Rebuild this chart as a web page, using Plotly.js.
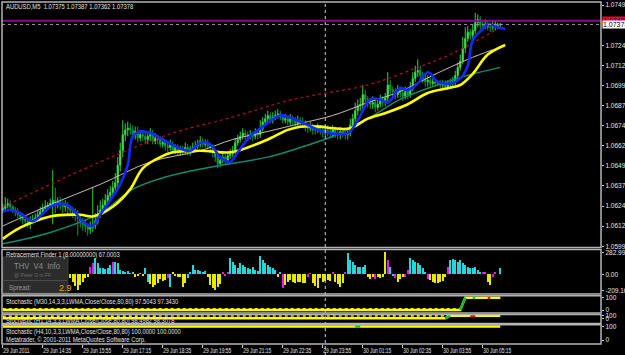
<!DOCTYPE html>
<html><head><meta charset="utf-8">
<script src="https://cdn.plot.ly/plotly-3.0.1.min.js"></script>
<style>html,body{margin:0;padding:0;background:#000;overflow:hidden}#chart{width:625px;height:355px}</style>
</head><body><div id="chart"></div>
<script>
// ---------------- DATA ----------------
const title = "AUDUSD,M5  1.07375 1.07387 1.07362 1.07378";
const tickBars = [0,16,32,48,64,80,96,112,128,144,160,176,192];
const tickLabels = ["29 Jun 2011","29 Jun 14:35","29 Jun 15:55","29 Jun 17:15","29 Jun 18:35","29 Jun 19:55","29 Jun 21:15","29 Jun 22:35","29 Jun 23:55","30 Jun 01:15","30 Jun 02:35","30 Jun 03:55","30 Jun 05:15"];
const priceTicks = [1.07499,1.07245,1.07120,1.06995,1.06870,1.06745,1.06620,1.06495,1.06370,1.06245,1.06120,1.05995];
const bidPrice = 1.07378;
const levelPrice = 1.07401;
const separatorBar = 129;

const open = [
1.0622,1.0623,1.0625,1.0626,1.0624,1.0622,1.0621,1.0619,1.0618,1.0616,
1.0615,1.0614,1.0615,1.0616,1.0617,1.0619,1.0621,1.0623,1.0624,1.0625,
1.0626,1.0628,1.0626,1.0627,1.0626,1.0624,1.0625,1.0623,1.0622,1.0621,
1.0619,1.0617,1.0615,1.0613,1.0612,1.0610,1.0611,1.0612,1.0615,1.0619,
1.0622,1.0625,1.0628,1.0631,1.0633,1.0636,1.0639,1.0650,1.0659,1.0669,
1.0672,1.0673,1.0672,1.0669,1.0671,1.0667,1.0669,1.0668,1.0666,1.0668,
1.0669,1.0665,1.0667,1.0666,1.0663,1.0664,1.0662,1.0661,1.0663,1.0659,
1.0661,1.0658,1.0660,1.0659,1.0661,1.0658,1.0660,1.0661,1.0662,1.0663,
1.0665,1.0663,1.0664,1.0662,1.0661,1.0658,1.0655,1.0651,1.0653,1.0655,
1.0653,1.0656,1.0657,1.0659,1.0664,1.0666,1.0668,1.0670,1.0669,1.0668,
1.0669,1.0668,1.0670,1.0669,1.0673,1.0677,1.0679,1.0681,1.0678,1.0680,
1.0681,1.0682,1.0680,1.0678,1.0679,1.0677,1.0679,1.0678,1.0676,1.0678,
1.0677,1.0676,1.0674,1.0673,1.0674,1.0672,1.0672,1.0673,1.0672,1.0670,
1.0672,1.0671,1.0670,1.0672,1.0670,1.0669,1.0671,1.0670,1.0669,1.0670,
1.0675,1.0679,1.0684,1.0687,1.0688,1.0694,1.0691,1.0689,1.0688,1.0689,
1.0686,1.0688,1.0691,1.0689,1.0692,1.0700,1.0697,1.0696,1.0694,1.0697,
1.0695,1.0693,1.0696,1.0694,1.0698,1.0704,1.0708,1.0709,1.0706,1.0704,
1.0702,1.0703,1.0701,1.0702,1.0701,1.0701,1.0700,1.0701,1.0699,1.0701,
1.0701,1.0702,1.0706,1.0711,1.0715,1.0723,1.0729,1.0733,1.0731,1.0734,
1.0739,1.0741,1.0737,1.0737,1.0738,1.0736,1.0736,1.0737,1.0737,1.07375];
const high = [
1.0626,1.0630,1.0629,1.0628,1.0625,1.0624,1.0623,1.0621,1.0620,1.0618,
1.0617,1.0618,1.0619,1.0620,1.0622,1.0624,1.0626,1.0628,1.0627,1.0629,
1.0647,1.0636,1.0630,1.0630,1.0628,1.0628,1.0627,1.0625,1.0624,1.0623,
1.0622,1.0619,1.0617,1.0616,1.0614,1.0615,1.0636,1.0620,1.0625,1.0628,
1.0629,1.0632,1.0635,1.0637,1.0640,1.0645,1.0655,1.0664,1.0678,1.0676,
1.0677,1.0676,1.0675,1.0674,1.0674,1.0672,1.0672,1.0671,1.0671,1.0673,
1.0672,1.0670,1.0669,1.0668,1.0667,1.0666,1.0664,1.0666,1.0665,1.0663,
1.0663,1.0662,1.0662,1.0664,1.0663,1.0662,1.0664,1.0665,1.0666,1.0668,
1.0667,1.0666,1.0666,1.0664,1.0663,1.0660,1.0657,1.0656,1.0658,1.0657,
1.0658,1.0660,1.0662,1.0667,1.0669,1.0671,1.0673,1.0672,1.0671,1.0672,
1.0671,1.0673,1.0672,1.0678,1.0680,1.0682,1.0684,1.0683,1.0683,1.0684,
1.0685,1.0684,1.0682,1.0682,1.0681,1.0682,1.0681,1.0680,1.0681,1.0680,
1.0680,1.0678,1.0676,1.0677,1.0676,1.0675,1.0676,1.0675,1.0674,1.0675,
1.0675,1.0674,1.0675,1.0674,1.0673,1.0674,1.0673,1.0672,1.0673,1.0679,
1.0682,1.0689,1.0691,1.0692,1.0700,1.0697,1.0693,1.0691,1.0693,1.0691,
1.0691,1.0694,1.0693,1.0695,1.0708,1.0703,1.0699,1.0698,1.0700,1.0699,
1.0698,1.0699,1.0698,1.0702,1.0708,1.0712,1.0716,1.0712,1.0708,1.0707,
1.0706,1.0705,1.0704,1.0704,1.0703,1.0703,1.0703,1.0703,1.0703,1.0704,
1.0705,1.0709,1.0714,1.0719,1.0730,1.0736,1.0737,1.0735,1.0738,1.0745,
1.0744,1.0743,1.0740,1.0741,1.0740,1.0739,1.0740,1.0740,1.0739,1.07387];
const low = [
1.0620,1.0621,1.0623,1.0622,1.0620,1.0618,1.0617,1.0615,1.0613,1.0612,
1.0611,1.0610,1.0613,1.0614,1.0615,1.0617,1.0619,1.0621,1.0622,1.0623,
1.0613,1.0620,1.0623,1.0622,1.0620,1.0621,1.0619,1.0618,1.0617,1.0615,
1.0606,1.0611,1.0609,1.0608,1.0606,1.0607,1.0608,1.0610,1.0613,1.0617,
1.0619,1.0622,1.0625,1.0628,1.0630,1.0633,1.0636,1.0646,1.0655,1.0665,
1.0668,1.0669,1.0666,1.0666,1.0664,1.0665,1.0665,1.0663,1.0663,1.0665,
1.0663,1.0663,1.0663,1.0661,1.0661,1.0659,1.0658,1.0659,1.0657,1.0657,
1.0656,1.0656,1.0657,1.0657,1.0656,1.0656,1.0658,1.0659,1.0660,1.0661,
1.0661,1.0661,1.0660,1.0658,1.0655,1.0652,1.0648,1.0649,1.0651,1.0650,
1.0651,1.0654,1.0655,1.0657,1.0662,1.0664,1.0666,1.0666,1.0665,1.0666,
1.0665,1.0666,1.0666,1.0667,1.0671,1.0675,1.0677,1.0676,1.0676,1.0678,
1.0679,1.0678,1.0676,1.0676,1.0675,1.0675,1.0675,1.0674,1.0674,1.0674,
1.0673,1.0671,1.0670,1.0671,1.0669,1.0669,1.0670,1.0669,1.0667,1.0668,
1.0668,1.0667,1.0667,1.0667,1.0666,1.0666,1.0667,1.0666,1.0666,1.0668,
1.0672,1.0677,1.0681,1.0684,1.0685,1.0688,1.0686,1.0685,1.0685,1.0683,
1.0684,1.0686,1.0686,1.0687,1.0690,1.0694,1.0693,1.0691,1.0692,1.0692,
1.0690,1.0691,1.0691,1.0692,1.0696,1.0702,1.0705,1.0703,1.0701,1.0699,
1.0699,1.0699,1.0699,1.0699,1.0699,1.0698,1.0698,1.0697,1.0697,1.0699,
1.0699,1.0700,1.0704,1.0709,1.0713,1.0720,1.0727,1.0728,1.0729,1.0732,
1.0736,1.0735,1.0734,1.0735,1.0734,1.0733,1.0734,1.0734,1.0735,1.07362];
const close = [
1.0623,1.0625,1.0626,1.0624,1.0622,1.0621,1.0619,1.0618,1.0616,1.0615,
1.0614,1.0615,1.0616,1.0617,1.0619,1.0621,1.0623,1.0624,1.0625,1.0626,
1.0628,1.0626,1.0627,1.0626,1.0624,1.0625,1.0623,1.0622,1.0621,1.0619,
1.0617,1.0615,1.0613,1.0612,1.0610,1.0611,1.0612,1.0615,1.0619,1.0622,
1.0625,1.0628,1.0631,1.0633,1.0636,1.0639,1.0650,1.0659,1.0669,1.0672,
1.0673,1.0672,1.0669,1.0671,1.0667,1.0669,1.0668,1.0666,1.0668,1.0669,
1.0665,1.0667,1.0666,1.0663,1.0664,1.0662,1.0661,1.0663,1.0659,1.0661,
1.0658,1.0660,1.0659,1.0661,1.0658,1.0660,1.0661,1.0662,1.0663,1.0665,
1.0663,1.0664,1.0662,1.0661,1.0658,1.0655,1.0651,1.0653,1.0655,1.0653,
1.0656,1.0657,1.0659,1.0664,1.0666,1.0668,1.0670,1.0669,1.0668,1.0669,
1.0668,1.0670,1.0669,1.0673,1.0677,1.0679,1.0681,1.0678,1.0680,1.0681,
1.0682,1.0680,1.0678,1.0679,1.0677,1.0679,1.0678,1.0676,1.0678,1.0677,
1.0676,1.0674,1.0673,1.0674,1.0672,1.0672,1.0673,1.0672,1.0670,1.0672,
1.0671,1.0670,1.0672,1.0670,1.0669,1.0671,1.0670,1.0669,1.0670,1.0675,
1.0679,1.0684,1.0687,1.0688,1.0694,1.0691,1.0689,1.0688,1.0689,1.0686,
1.0688,1.0691,1.0689,1.0692,1.0700,1.0697,1.0696,1.0694,1.0697,1.0695,
1.0693,1.0696,1.0694,1.0698,1.0704,1.0708,1.0709,1.0706,1.0704,1.0702,
1.0703,1.0701,1.0702,1.0701,1.0701,1.0700,1.0701,1.0699,1.0701,1.0701,
1.0702,1.0706,1.0711,1.0715,1.0723,1.0729,1.0733,1.0731,1.0734,1.0739,
1.0741,1.0737,1.0737,1.0738,1.0736,1.0736,1.0737,1.0737,1.07375,1.07378];

// moving averages (bar index, price)
const blueX = [0,3,7,12,19,23,27,32,36,39,43,47,50,52,55,59,64,70,75,79,83,87,91,94,99,104,111,116,122,128,138,142,147,151,154,159,162,166,170,174,179,183,186,188,192,194,198,201];
const blueV = [1.0621,1.0622,1.0620,1.0615,1.0624,1.0626,1.0624,1.0615,1.0612,1.0619,1.0628,1.0638,1.0650,1.0668,1.0671,1.0670,1.0666,1.0661,1.0659,1.0664,1.0663,1.0655,1.0652,1.0658,1.0668,1.0674,1.0681,1.0679,1.0675,1.0671,1.0670,1.0678,1.0691,1.0691,1.0689,1.0698,1.0697,1.0701,1.0708,1.0702,1.0701,1.0704,1.0712,1.0728,1.0735,1.0738,1.0736,1.0735];
const yellowX = [0,7,19,31,36,44,51,56,63,68,79,91,98,106,114,119,127,132,139,146,154,162,170,178,183,188,194,201];
const yellowV = [1.0604,1.0611,1.0618,1.0619,1.0618,1.0624,1.0635,1.0648,1.0655,1.0658,1.0659,1.0658,1.0661,1.0666,1.0672,1.0674,1.0674,1.0673,1.0673,1.0679,1.0683,1.0688,1.0695,1.0698,1.0700,1.0707,1.0719,1.0725];
const whiteX = [0,20,39,59,79,92,106,119,132,146,159,172,186,196];
const whiteV = [1.0612,1.0626,1.0638,1.0652,1.0659,1.0666,1.0671,1.0676,1.0681,1.0689,1.0696,1.0706,1.0716,1.0722];
const tealX = [0,19,39,52,66,84,106,119,132,146,159,172,186,199];
const tealV = [1.0601,1.0608,1.0620,1.0635,1.0643,1.0649,1.0655,1.0661,1.0668,1.0679,1.0691,1.0699,1.0706,1.0711];
const redX = [0,39,66,92,116,146,166,179,190,199];
const redV = [1.0624,1.0652,1.0669,1.0680,1.0691,1.0700,1.0711,1.0719,1.0728,1.0736];

// Retracement Finder histogram (null = hidden behind info box)
const histV = [
-25,null,null,null,null,null,null,null,null,null,
null,null,null,null,null,null,null,null,null,null,
null,null,null,null,null,null,null,-52,-95,-150,
-203,-140,-95,-52,-40,100,142,207,143,78,
78,69,86,121,164,164,143,56,43,30,
40,20,30,-30,-20,15,-25,78,-95,-130,
-160,-140,-110,-60,-90,-75,-52,-160,35,-20,
-30,-40,-160,-117,-50,30,121,56,56,45,
35,40,-30,-140,-180,-200,-160,-120,35,-20,
25,207,164,121,78,143,121,100,78,69,
90,60,40,238,186,143,121,100,78,56,
-30,30,-181,-140,-100,-75,-95,-117,-100,-95,
-110,-117,-30,13,-117,-150,-181,-52,-95,-80,
-70,-90,35,-95,-130,-160,-110,35,272,186,
164,121,99,99,99,121,-40,-60,-30,-55,
-35,-45,-30,283,186,99,-25,-50,-95,-60,
-30,-40,56,216,186,164,143,121,78,35,
-60,-75,-95,-110,-117,-95,-80,-30,99,186,
199,186,164,186,143,121,99,78,86,99,
56,35,35,25,-95,-138,-30,35,10,78];
// state: u = rising (cyan), d = falling (yellow), t = turn (magenta)
const histState = (
"tddddddddd"+"dddddddddd"+"ddddddtddd"+
"dddddttuuu"+"uuuutuuuuu"+"uuudduduud"+
"ddddddtudd"+"dddduuuuuu"+"uuddddddtt"+
"tuuuuuuuuu"+"uuuuuuuuuu"+"dutddddddd"+
"ddttdddddd"+"ddtddddtuu"+"uuuuuudddt"+
"ddddtuutdd"+"dttuuuuuuu"+"tdddddddtu"+
"uuuuuuuuuu"+"uuttddttuu").split("");

// Stochastic panels (bar index, value)
const m30X = [0,183,185,188,189,194,195,199];
const m30Main = [0,0,99,100,100,98,97.6,97.5];
const m30Signal = [10,10,97,99,99,98,97.5,97.3];
const m30UpX = [[183,185],[188,189]]; const m30UpV = [[0,99],[100,100]];
const m30DnX = [[194,195]]; const m30DnV = [[98,97.6]];
const h1X = [0,177,179,187,189,199];
const h1Main = [0,0,100,100,99,98.5];
const h1Signal = [85,85,100,100,99,98.3];
const h1UpX = [[177,179]]; const h1UpV = [[0,100]];
const h1DnX = [[187,189]]; const h1DnV = [[100,99]];
const h4X = [0,199];
const h4Main = [100,100];
const h4UpX = [[141,143]]; const h4UpV = [[100,100]];

// ---------------- LAYOUT HELPERS ----------------
const PT=2, PB=344, PL=2, PR=601;
const py = y => (PB - y)/(PB - PT);
const px = x => (x - PL)/(PR - PL);
const bars = close.map((_,i)=>i);
const FONT = "Liberation Sans, Arial, sans-serif";

const dom = {
  main:[py(247.5),1], retr:[py(294),py(249.5)], m30:[py(313),py(295.8)],
  h1:[py(323.5),py(314.5)], h4:[0,py(324.8)]
};

const traces = [];
traces.push({type:'scatter',mode:'lines',x:tealX,y:tealV,line:{color:'#128a6e',width:1.5,shape:'spline'},xaxis:'x',yaxis:'y',hoverinfo:'skip'});
traces.push({type:'scatter',mode:'lines',x:whiteX,y:whiteV,line:{color:'#c8beb2',width:1,shape:'spline'},xaxis:'x',yaxis:'y',hoverinfo:'skip'});
traces.push({type:'scatter',mode:'lines',x:redX,y:redV,line:{color:'#b01028',width:1.2,dash:'dot',shape:'spline'},xaxis:'x',yaxis:'y',hoverinfo:'skip'});
traces.push({type:'candlestick',x:bars,open:open,high:high,low:low,close:close,xaxis:'x',yaxis:'y',
  increasing:{line:{color:'#30d040',width:1},fillcolor:'#b8ff90'},
  decreasing:{line:{color:'#109840',width:1},fillcolor:'#109840'},
  whiskerwidth:0,hoverinfo:'skip'});
traces.push({type:'scatter',mode:'lines',x:yellowX,y:yellowV,line:{color:'#ffff00',width:2.6,shape:'spline'},xaxis:'x',yaxis:'y',hoverinfo:'skip'});
traces.push({type:'scatter',mode:'lines',x:blueX,y:blueV,line:{color:'#1428ff',width:2.6,shape:'spline'},xaxis:'x',yaxis:'y',hoverinfo:'skip'});

const stateColor = {u:'#22d8d8', d:'#e8e800', t:'#e020e0'};
traces.push({type:'bar',x:bars,y:histV,width:0.8,marker:{color:histState.map(s=>stateColor[s]),line:{width:0}},xaxis:'x',yaxis:'y2',hoverinfo:'skip'});

function stochTraces(ax, X, main, sig, upX, upV, dnX, dnV){
  if(sig) traces.push({type:'scatter',mode:'lines',x:X,y:sig,line:{color:'#e8e800',width:1.6,dash:'dot'},xaxis:'x',yaxis:ax,hoverinfo:'skip'});
  traces.push({type:'scatter',mode:'lines',x:X,y:main,line:{color:'#ffff00',width:2.4},xaxis:'x',yaxis:ax,hoverinfo:'skip'});
  (upX||[]).forEach((xs,k)=>traces.push({type:'scatter',mode:'lines',x:xs,y:upV[k],line:{color:'#10c020',width:2.6},xaxis:'x',yaxis:ax,hoverinfo:'skip'}));
  (dnX||[]).forEach((xs,k)=>traces.push({type:'scatter',mode:'lines',x:xs,y:dnV[k],line:{color:'#ff1010',width:2.6},xaxis:'x',yaxis:ax,hoverinfo:'skip'}));
}
stochTraces('y3', m30X, m30Main, m30Signal, m30UpX, m30UpV, m30DnX, m30DnV);
stochTraces('y4', h1X, h1Main, h1Signal, h1UpX, h1UpV, h1DnX, h1DnV);
stochTraces('y5', h4X, h4Main, null, h4UpX, h4UpV, [], []);

const tf = {family:FONT,size:7,color:'#e6e6e6'};
function yax(domain, range, vals, txt){
  return {domain, range, side:'right', anchor:'x', showgrid:false, zeroline:false, showline:false,
    ticks:'outside', ticklen:2, tickcolor:'#c8c8c8', tickwidth:1, tickfont:tf,
    tickmode:'array', tickvals:vals, ticktext:txt, fixedrange:true};
}

const ann = [], annSqueeze = [];
function label(text, x, y, color, size, squeeze){
  ann.push({text, xref:'paper', yref:'paper', x:px(x), y:py(y), xanchor:'left', yanchor:'middle', align:'left',
    showarrow:false, font:{family:FONT,size:size||7,color:color||'#e0e0e0'}});
  annSqueeze.push(squeeze||1);
}
label(title, 4, 7, '#e0e0e0', 7.5, 0.78);
label("Retracement Finder 1 (8.00000000) 67.0003", 4, 255, '#e0e0e0', 7, 0.82);
label("Stochastic (M30,14,3,3,LWMA,Close/Close,80,80) 97.5043 97.3430", 4, 302, '#e0e0e0', 7, 0.82);
label("Stochastic (H1,14,3,3,LWMA,Close/Close,80,80) 98.4982 98.3078", 4, 320.5, '#e0e0e0', 7, 0.82);
label("Stochastic (H4,10,3,3,LWMA,Close/Close,80,80) 100.0000 100.0000", 4, 331.5, '#e0e0e0', 7, 0.82);
label("Metatrader, © 2001-2011 MetaQuotes Software Corp.", 4, 340, '#e0e0e0', 7, 0.84);
label("THV  V4  Info", 12, 266, '#8c8c8c', 8.5, 0.9);
label("@ Peter O in FF", 12, 274.5, '#6a6a6a', 6, 0.85);
label("Spread:", 7, 287.5, '#9a9a9a', 7, 0.9);
label("2.9", 57, 287.5, '#f0a020', 9, 1);
ann.push({text:levelPrice.toFixed(5), xref:'paper', yref:'y', x:px(602), y:levelPrice, xanchor:'left', yanchor:'middle',
  showarrow:false, bgcolor:'#ff0000', borderpad:0, font:{family:FONT,size:7,color:'#0000c0'}}); annSqueeze.push(1);
ann.push({text:bidPrice.toFixed(5), xref:'paper', yref:'y', x:px(602), y:bidPrice, xanchor:'left', yanchor:'middle',
  showarrow:false, bgcolor:'#ffffff', borderpad:0, font:{family:FONT,size:7,color:'#000000'}}); annSqueeze.push(1);

const shapes = [];
shapes.push({type:'rect',xref:'paper',yref:'paper',x0:px(3),x1:px(68),y0:py(293),y1:py(257),fillcolor:'#2c2c2c',line:{color:'#3c3c3c',width:1},layer:'above'});
shapes.push({type:'line',xref:'paper',yref:'paper',x0:px(4),x1:px(67),y0:py(280.5),y1:py(280.5),line:{color:'#4a4a4a',width:1},layer:'above'});
shapes.push({type:'line',xref:'paper',yref:'y',x0:0,x1:1,y0:levelPrice,y1:levelPrice,line:{color:'#8a0a8a',width:2}});
shapes.push({type:'line',xref:'paper',yref:'y',x0:0,x1:1,y0:bidPrice,y1:bidPrice,line:{color:'#9a9a9a',width:1,dash:'dot'}});
shapes.push({type:'line',xref:'x',yref:'paper',x0:separatorBar,x1:separatorBar,y0:py(355),y1:1,line:{color:'#d0d0d0',width:1,dash:'dot'}});
Object.values(dom).forEach(d=>{
  shapes.push({type:'rect',xref:'paper',yref:'paper',x0:0,x1:1,y0:d[0],y1:d[1],line:{color:'#b4b4b4',width:1.5},fillcolor:'rgba(0,0,0,0)',layer:'above'});
});

const layout = {
  width:625, height:355, margin:{l:PL,r:625-PR,t:PT,b:355-PB},
  paper_bgcolor:'#000', plot_bgcolor:'#000', showlegend:false, hovermode:false, bargap:0,
  xaxis:{range:[-0.3,239.3], anchor:'y5', showgrid:false, zeroline:false, showline:false,
    ticks:'outside', ticklen:3, tickcolor:'#c8c8c8', tickfont:{family:FONT,size:7,color:'#e6e6e6'}, tickmode:'array',
    tickvals:tickBars, ticktext:tickLabels, tickangle:0, ticklabelposition:'outside right', automargin:false,
    rangeslider:{visible:false}, fixedrange:true},
  yaxis: yax(dom.main,[1.05986,1.07518],priceTicks,priceTicks.map(v=>v.toFixed(5))),
  yaxis2: yax(dom.retr,[-254,320],[282.992,0,-209.168],["282.992","0.00","-209.168"]),
  yaxis3: yax(dom.m30,[-24,113.6],[100,0],["100","0"]),
  yaxis4: yax(dom.h1,[-208,152],[100,0],["100","0"]),
  yaxis5: yax(dom.h4,[-29.6,112.6],[100,0],["100","0"]),
  annotations: ann, shapes: shapes
};

// narrow the text like the terminal's condensed UI font (text stays real text)
function squeezeText(el, f){
  if(!el || f===1) return;
  const L = el.getComputedTextLength();
  if(L>0){ el.setAttribute('textLength',(L*f).toFixed(2)); el.setAttribute('lengthAdjust','spacingAndGlyphs'); }
}
Plotly.newPlot('chart', traces, layout, {staticPlot:true, displayModeBar:false}).then(gd=>{
  gd.querySelectorAll('.xtick text').forEach(t=>squeezeText(t,0.69));
  gd.querySelectorAll('.ytick text, .y2tick text, .y3tick text, .y4tick text, .y5tick text').forEach(t=>squeezeText(t,0.93));
  gd.querySelectorAll('g.annotation').forEach((g,k)=>squeezeText(g.querySelector('text'), annSqueeze[k]||1));
});
</script></body></html>
